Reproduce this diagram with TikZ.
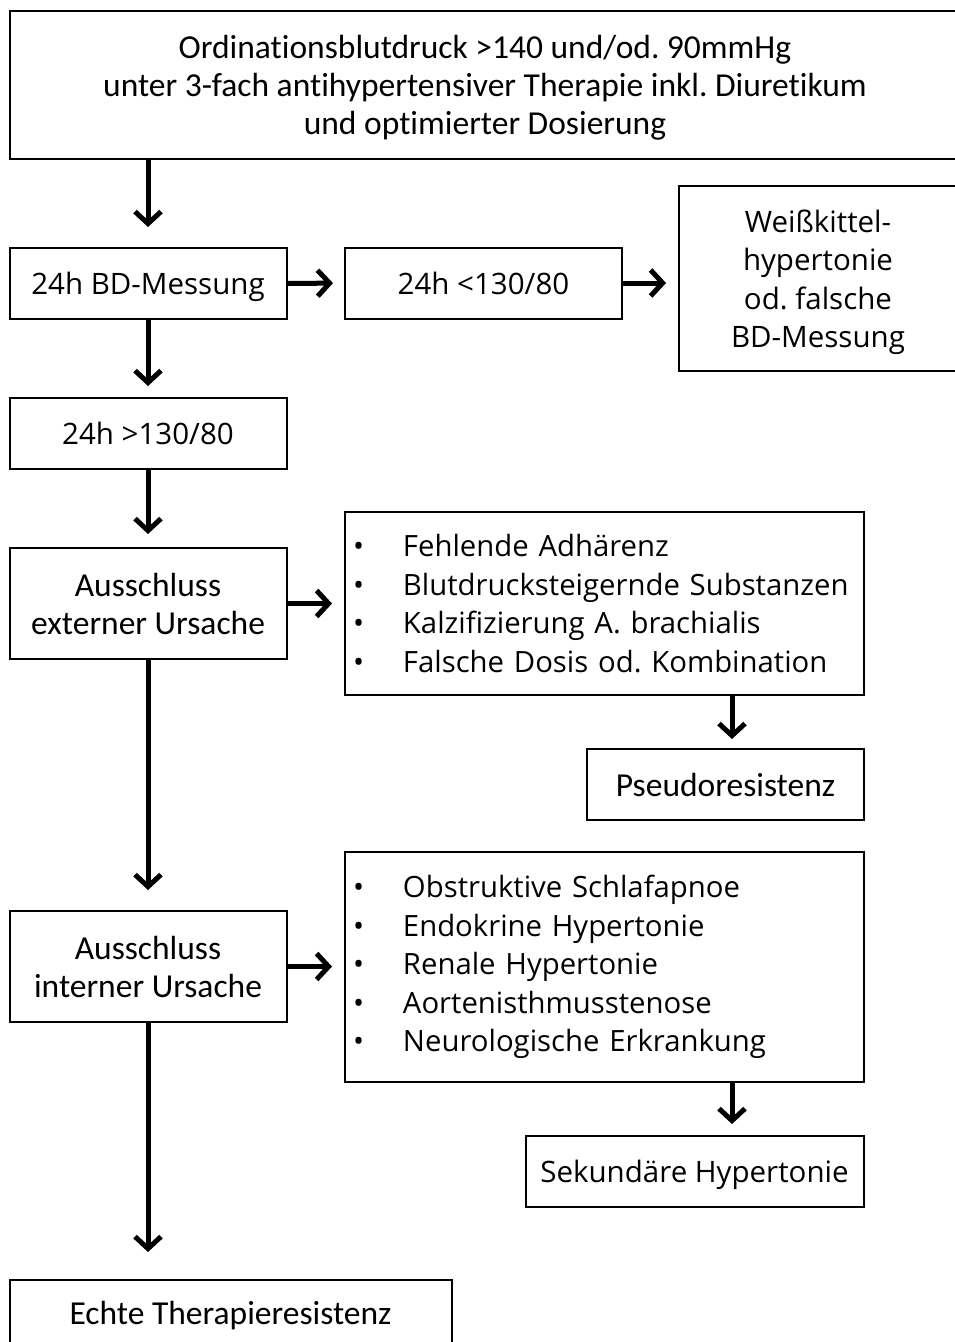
\documentclass[tikz,border=0pt]{standalone}
\usepackage{fontspec}
\setmainfont[Ligatures=NoCommon]{Carlito}
\newfontfamily\tah{Open Sans}
\usetikzlibrary{arrows.meta}
\frenchspacing
\begin{document}
\begin{tikzpicture}[x=1pt,y=-1pt,
  box/.style={draw=black, line width=2pt, inner sep=0pt, align=center},
  cal/.style={box, font=\fontsize{33.5}{38}\selectfont},
  tah/.style={box, font=\tah\fontsize{29.5}{38.5}\selectfont},
  lst/.style={box, font=\tah\fontsize{29.3}{38.4}\selectfont, align=left, inner xsep=8pt, text width=503pt, minimum width=519pt},
  nodp/.style={text depth=0pt},
  arr/.style={line width=5pt, -{Straight Barb[length=12pt,width=26pt]}},
]
\useasboundingbox (0,0) rectangle (955,1342);
\clip (0,0) rectangle (955,1342);
\newcommand{\bul}{\makebox[50pt][l]{\textbullet}}

\node[cal, text depth=-6pt, minimum width=950pt, minimum height=148pt] (top) at (485,85)
  {Ordinationsblutdruck >140 und/od. 90mmHg\\unter 3-fach antihypertensiver Therapie inkl. Diuretikum\\und optimierter Dosierung};
\node[tah, nodp, minimum width=277pt, minimum height=71pt] (bd) at (148,283.5) {24h BD-Messung};
\node[tah, minimum width=277pt, minimum height=71pt] (lt) at (483.5,283) {24h <130/80};
\node[tah, nodp, minimum width=278pt, minimum height=185pt] (wk) at (818,278.5)
  {Weißkittel-\\hypertonie\\od. falsche\\BD-Messung};
\node[tah, minimum width=277pt, minimum height=71pt] (gt) at (148,433.5) {24h >130/80};
\node[cal, minimum width=277pt, minimum height=111pt] (ext) at (148,603.5) {Ausschluss\\externer Ursache};
\node[lst, minimum height=183pt] (l1) at (604.5,603.5)
  {\bul Fehlende Adhärenz\\\bul Blutdrucksteigernde Substanzen\\\bul Kalzifizierung A. brachialis\\\bul Falsche Dosis od. Kombination};
\node[cal, minimum width=277pt, minimum height=71pt] (ps) at (725.5,784.5) {Pseudoresistenz};
\node[cal, minimum width=277pt, minimum height=111pt] (int) at (148,966.5) {Ausschluss\\interner Ursache};
\node[lst, minimum height=230pt] (l2) at (604.5,967)
  {\bul Obstruktive Schlafapnoe\\\bul Endokrine Hypertonie\\\bul Renale Hypertonie\\\bul Aortenisthmusstenose\\\bul Neurologische Erkrankung};
\node[tah, nodp, minimum width=338pt, minimum height=71pt] (sek) at (694.5,1171.5) {Sekundäre Hypertonie};
\node[cal, minimum width=442pt, minimum height=71pt] (echte) at (230.5,1315.5) {Echte Therapieresistenz};

\coordinate (c1) at (732,0);

\draw[arr, shorten >=20pt] (top.south -| bd.north) -- (bd.north);
\draw[arr, shorten >=11pt] (bd.east) -- (lt.west);
\draw[arr, shorten >=12pt] (lt.east) -- (lt.east -| wk.west);
\draw[arr, shorten >=11pt] (bd.south) -- (gt.north);
\draw[arr, shorten >=13pt] (gt.south) -- (ext.north);
\draw[arr, shorten >=12pt] (ext.east) -- (ext.east -| l1.west);
\draw[arr, shorten >=9pt] (l1.south -| c1) -- (ps.north -| c1);
\draw[arr, shorten >=20pt] (ext.south) -- (int.north);
\draw[arr, shorten >=12pt] (int.east) -- (int.east -| l2.west);
\draw[arr, shorten >=11pt] (l2.south -| c1) -- (sek.north -| c1);
\draw[arr, shorten >=27pt] (int.south) -- (int.south |- echte.north);
\end{tikzpicture}
\end{document}
